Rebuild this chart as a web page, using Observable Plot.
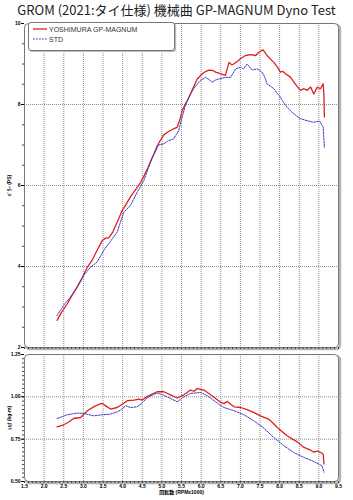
<!DOCTYPE html>
<html><head><meta charset="utf-8">
<script src="https://cdn.jsdelivr.net/npm/d3@7"></script>
<script src="https://cdn.jsdelivr.net/npm/@observablehq/plot@0.6"></script>
<style>
body{margin:0;background:#fff;}
#wrap{position:relative;width:353px;height:500px;overflow:hidden;font-family:"Liberation Sans","Noto Sans CJK JP",sans-serif;}
#title{position:absolute;left:0;top:1px;width:353px;text-align:center;font-family:"Noto Sans CJK JP","Noto Sans",sans-serif;font-size:13px;line-height:18px;color:#222;white-space:nowrap;}
#topc{position:absolute;left:0;top:20px;}
#botc{position:absolute;left:0;top:352px;}
#legend{position:absolute;left:28px;top:22px;width:145px;height:27px;border:1px solid #777;border-radius:3px;background:#fff;box-shadow:1px 1px 0 #bbb;font-size:7px;color:#333;}
.row{position:absolute;left:4px;display:flex;align-items:center;height:8px;}
.row span{margin-left:2px;}
</style></head>
<body><div id="wrap">
<div id="title">GROM (2021:タイ仕様) 機械曲 GP-MAGNUM Dyno Test</div>
<div id="topc"></div><div id="botc"></div>
<div id="legend"></div>
</div>
<script>
// ---- data ----
const seriesNames = ["YOSHIMURA GP-MAGNUM", "STD"];
const seriesColors = ["#e01e1e", "#3a3acc"];

const redRpm = [2.33,2.45,2.59,2.72,2.84,2.97,3.10,3.22,3.35,3.48,3.57,3.65,3.75,3.86,3.99,4.12,4.22,4.33,4.46,4.55,4.65,4.75,4.84,4.92,5.05,5.15,5.30,5.39,5.45,5.52,5.60,5.69,5.77,5.90,6.03,6.12,6.20,6.30,6.37,6.49,6.62,6.71,6.78,6.83,6.92,7.00,7.13,7.26,7.39,7.47,7.58,7.68,7.77,7.85,7.94,8.02,8.08,8.15,8.28,8.36,8.45,8.53,8.62,8.70,8.79,8.87,8.96,9.04,9.11,9.13,9.14];
const redPower = [2.67,2.88,3.08,3.30,3.49,3.72,3.98,4.15,4.40,4.64,4.70,4.71,4.85,5.09,5.38,5.59,5.75,5.90,6.08,6.25,6.45,6.68,6.86,7.05,7.25,7.32,7.40,7.44,7.60,7.85,8.02,8.18,8.35,8.63,8.76,8.82,8.85,8.84,8.80,8.76,8.72,9.04,8.98,9.00,9.06,9.13,9.21,9.23,9.21,9.29,9.35,9.21,9.12,9.04,8.93,8.80,8.82,8.76,8.67,8.56,8.44,8.35,8.39,8.35,8.43,8.26,8.43,8.39,8.51,8.20,7.69];

const stdRpm = [2.33,2.50,2.67,2.84,3.01,3.18,3.35,3.52,3.69,3.86,4.03,4.20,4.37,4.54,4.70,4.88,5.05,5.15,5.30,5.43,5.52,5.60,5.70,5.81,5.90,5.98,6.11,6.20,6.28,6.36,6.45,6.62,6.75,6.88,7.00,7.08,7.17,7.30,7.43,7.55,7.62,7.68,7.77,7.85,8.02,8.10,8.19,8.36,8.53,8.70,8.87,9.02,9.11,9.14];
const stdPower = [2.79,3.05,3.24,3.49,3.78,3.98,4.11,4.40,4.62,4.85,5.34,5.51,5.83,6.12,6.55,6.99,7.03,7.10,7.15,7.36,7.70,7.98,8.20,8.39,8.50,8.59,8.67,8.62,8.55,8.60,8.63,8.67,8.67,8.88,8.92,8.88,9.00,8.85,8.88,8.80,8.68,8.51,8.45,8.39,8.18,8.05,7.93,7.77,7.65,7.60,7.56,7.59,7.44,6.94];

const redTqRpm = [2.33,2.50,2.62,2.75,2.93,3.10,3.26,3.40,3.48,3.58,3.69,3.86,4.00,4.12,4.29,4.41,4.50,4.60,4.71,4.88,5.05,5.22,5.39,5.56,5.73,5.82,5.90,6.07,6.24,6.37,6.50,6.58,6.67,6.76,6.84,7.01,7.17,7.34,7.51,7.72,7.83,7.94,8.06,8.19,8.32,8.45,8.62,8.79,8.87,8.96,9.08,9.11,9.13];
const redTorque = [0.823,0.835,0.850,0.872,0.878,0.918,0.941,0.955,0.961,0.945,0.928,0.937,0.958,0.977,0.981,0.987,0.981,0.998,1.012,1.030,1.030,1.012,0.993,1.012,1.040,1.033,1.049,1.040,1.012,0.990,0.967,0.960,0.973,0.955,0.941,0.937,0.924,0.908,0.888,0.868,0.845,0.819,0.795,0.770,0.752,0.734,0.701,0.685,0.673,0.680,0.668,0.660,0.603];

const stdTqRpm = [2.33,2.59,2.84,3.01,3.13,3.26,3.48,3.69,3.85,3.95,4.08,4.20,4.37,4.50,4.62,4.75,4.88,5.05,5.22,5.39,5.56,5.73,5.99,6.16,6.33,6.45,6.58,6.84,7.09,7.34,7.60,7.85,8.11,8.36,8.62,8.87,9.08,9.13];
const stdTorque = [0.872,0.894,0.904,0.902,0.895,0.888,0.894,0.898,0.910,0.922,0.947,0.937,0.941,0.965,0.993,1.010,1.022,1.010,0.990,0.971,1.000,1.020,1.026,1.006,0.977,0.957,0.937,0.918,0.894,0.859,0.815,0.760,0.711,0.671,0.642,0.618,0.593,0.555];

// ticks / grid
const xTickLabels = [1.5,2.0,2.5,3.0,3.5,4.0,4.5,5.0,5.5,6.0,6.5,7.0,7.5,8.0,8.5,9.0,9.5];
const xGrid = [2.0,2.5,3.0,3.5,4.0,4.5,5.0,5.5,6.0,6.5,7.0,7.5,8.0,8.5,9.0];
const powerTicks = [2,4,6,8,10];
const powerGrid = [4,6,8];
const torqueTicks = [0.50,0.75,1.00,1.25];
const torqueGrid = [0.75,1.00];
const xMinorStep = 0.1, powerMinorStep = 0.5, torqueMinorStep = 0.025;
const powerLabel = "ﾊﾟﾜｰ (PS)";
const torqueLabel = "ﾄﾙｸ (kg-m)";
const rpmLabel = "回転数 (RPMx1000)";

const xMinor = d3.range(1.5, 9.5001, xMinorStep);
const powerMinor = d3.range(2, 10.001, powerMinorStep);
const torqueMinor = d3.range(0.5, 1.2501, torqueMinorStep);

const redP = redRpm.map((x,i)=>({x, y: redPower[i]}));
const stdP = stdRpm.map((x,i)=>({x, y: stdPower[i]}));
const redT = redTqRpm.map((x,i)=>({x, y: redTorque[i]}));
const stdT = stdTqRpm.map((x,i)=>({x, y: stdTorque[i]}));

const gridStyle = {stroke: "#8c8c8c", strokeWidth: 1, strokeDasharray: "1,1"};
const style = {fontFamily: "'Liberation Sans', 'Noto Sans CJK JP', sans-serif", fontSize: "5px", fontWeight: "bold", background: "transparent", overflow: "visible"};

function panel({height, mt, mb, yDomain, yTicks, yMinor, yGrid, yLabel, series, showX}) {
  return Plot.plot({
    width: 353, height, marginLeft: 24, marginRight: 15, marginTop: mt, marginBottom: mb,
    x: {domain: [1.5, 9.5]}, y: {domain: yDomain},
    style,
    marks: [
      Plot.frame({stroke: "#b5b5b5", strokeWidth: 2.5, dx: 1.5, dy: 1.5, rx: 4}),
      Plot.frame({fill: "white", stroke: "none", rx: 4}),
      Plot.ruleX(xGrid, gridStyle),
      Plot.ruleY(yGrid, gridStyle),
      Plot.axisY(yMinor, {tickSize: 2, text: null, label: null, stroke: "#444"}),
      Plot.axisY(yTicks, {tickSize: 3, tickPadding: 1, label: yLabel, labelAnchor: "center", labelOffset: 17, labelArrow: "none", tickFormat: yDomain[1] > 5 ? (d => d) : (d => d.toFixed(2))}),
      Plot.axisX(xMinor, {tickSize: 2, text: null, label: null, stroke: "#333"}),
      showX ? Plot.axisX(xTickLabels, {tickSize: 0, tickPadding: 3, tickFormat: d => d.toFixed(1), label: rpmLabel, labelAnchor: "center", labelOffset: 12, labelArrow: "none"}) : null,
      Plot.line(series[0], {x: "x", y: "y", stroke: seriesColors[0], strokeWidth: 1.3}),
      Plot.line(series[1], {x: "x", y: "y", stroke: seriesColors[1], strokeWidth: 1, strokeDasharray: "1.8,1.2"}),
      Plot.frame({stroke: "#555", strokeWidth: 0.8, rx: 4})
    ]
  });
}

document.getElementById("topc").append(panel({height: 332, mt: 3, mb: 5, yDomain: [2,10], yTicks: powerTicks, yMinor: powerMinor, yGrid: powerGrid, yLabel: powerLabel, series: [redP, stdP], showX: false}));
document.getElementById("botc").append(panel({height: 148, mt: 2, mb: 19, yDomain: [0.5,1.25], yTicks: torqueTicks, yMinor: torqueMinor, yGrid: torqueGrid, yLabel: torqueLabel, series: [redT, stdT], showX: true}));

// legend
const lg = document.getElementById("legend");
seriesNames.forEach((name, i) => {
  const row = document.createElement("div");
  row.className = "row";
  row.style.top = (6 + i*10 - 4) + "px";
  row.innerHTML = `<svg width="14" height="4"><line x1="0" x2="14" y1="2" y2="2" stroke="${seriesColors[i]}" stroke-width="${i===0?1.3:1}" ${i===1?'stroke-dasharray="1.8,1.2"':''}/></svg><span>${name}</span>`;
  lg.append(row);
});
</script>
</body></html>
